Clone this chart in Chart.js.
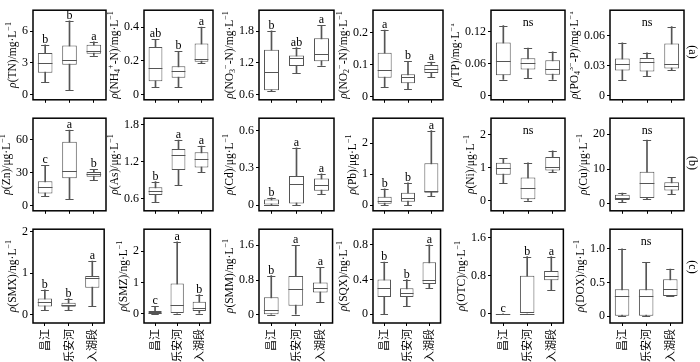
<!DOCTYPE html>
<html>
<head>
<meta charset="utf-8">
<script src="https://cdn.jsdelivr.net/npm/chart.js@4.4.0/dist/chart.umd.min.js"></script>
<style>
body { margin: 0; background: #fff; width: 700px; height: 362px; position: relative; overflow: hidden; }
canvas { position: absolute; }
.tag { position: absolute; width: 24px; height: 14px; line-height: 14px; text-align: center;
       font: 12px "Liberation Serif"; color: #000; transform: rotate(90deg); }
</style>
</head>
<body>
<script>
const sites = ['昌江', '乐安河', '入湖段'];

// five-number summaries per site: [min, q1, median, q3, max]
const tn = [[1.22, 2.07, 3.03, 3.93, 4.72], [0.41, 2.83, 3.26, 4.66, 6.99], [3.7, 3.87, 4.17, 4.72, 5.0]];
const nh4 = [[0.043, 0.079, 0.159, 0.283, 0.328], [0.043, 0.101, 0.139, 0.169, 0.256], [0.186, 0.195, 0.213, 0.303, 0.4]];
const no3 = [[0.66, 0.68, 1.03, 1.45, 1.81], [1.0, 1.14, 1.29, 1.34, 1.49], [1.15, 1.23, 1.37, 1.67, 1.91]];
const no2 = [[0.031, 0.059, 0.082, 0.137, 0.208], [0.025, 0.042, 0.062, 0.07, 0.11], [0.062, 0.074, 0.087, 0.099, 0.108]];
const tp = [[0.03, 0.038, 0.065, 0.0995, 0.131], [0.032, 0.049, 0.061, 0.07, 0.089], [0.03, 0.039, 0.049, 0.066, 0.082]];
const po4 = [[0.0155, 0.025, 0.0318, 0.037, 0.0527], [0.02, 0.024, 0.034, 0.0376, 0.0427], [0.026, 0.027, 0.032, 0.0518, 0.0688]];
const zn = [[8.7, 10.8, 17.2, 22.1, 36.7], [5.5, 24.8, 31.2, 58.3, 69], [23, 26.2, 28.5, 30.6, 33]];
const arsenic = [[0.54, 0.656, 0.721, 0.782, 0.873], [0.81, 1.06, 1.31, 1.40, 1.547], [1.03, 1.10, 1.24, 1.35, 1.45]];
const cd = [[0, 0.005, 0.005, 0.046, 0.059], [0, 0.013, 0.171, 0.235, 0.462], [0.092, 0.117, 0.163, 0.214, 0.253]];
const pb = [[0, 0.05, 0.13, 0.27, 0.53], [0, 0.11, 0.23, 0.40, 0.72], [0.30, 0.40, 0.46, 1.35, 2.40]];
const ni = [[0.53, 0.79, 1.0, 1.15, 1.29], [0, 0.05, 0.38, 0.71, 1.15], [0.87, 0.92, 1.03, 1.33, 1.51]];
const cu = [[0.5, 1.07, 1.8, 2.6, 3.1], [1.3, 1.7, 6.1, 9.2, 18.3], [2.8, 3.8, 5.0, 6.2, 7.6]];
const smx = [[0.11, 0.2, 0.3, 0.39, 0.6], [0.11, 0.19, 0.24, 0.29, 0.39], [0.2, 0.65, 0.89, 0.93, 1.29]];
const smz = [[0, 0, 0.03, 0.08, 0.23], [0, 0, 0.29, 0.96, 2.3], [0, 0.08, 0.19, 0.38, 0.61]];
const smm = [[0, 0, 0.1, 0.405, 0.9], [0, 0.21, 0.6, 0.89, 1.6], [0.3, 0.51, 0.61, 0.74, 1.09]];
const sqx = [[0, 0.2, 0.3, 0.4, 0.6], [0.1, 0.2, 0.25, 0.3, 0.4], [0.3, 0.35, 0.4, 0.6, 0.8]];
const otc = [[0, 0, 0, 0, 0], [0, 0, 0, 0.8, 1.2], [0.5, 0.7, 0.8, 0.9, 1.2]];
const dox = [[0, 0, 0.3, 0.4, 1.0], [0, 0, 0.3, 0.4, 0.8], [0.3, 0.3, 0.4, 0.55, 0.7]];

const boxes = [tn, nh4, no3, no2, tp, po4, zn, arsenic, cd, pb, ni, cu, smx, smz, smm, sqx, otc, dox];

// significance letters ('ns' = no significant difference)
const letters = [
  ['b', 'b', 'a'], ['ab', 'b', 'a'], ['b', 'ab', 'a'], ['a', 'b', 'a'], 'ns', 'ns',
  ['c', 'a', 'b'], ['b', 'a', 'a'], ['b', 'a', 'a'], ['b', 'b', 'a'], 'ns', 'ns',
  ['b', 'b', 'a'], ['c', 'a', 'b'], ['b', 'a', 'a'], ['b', 'b', 'a'], ['c', 'b', 'a'], 'ns'
];

// _{..} subscript, ^{..} superscript
const yTitles = [
  'ρ(TN)/mg·L^{−1}', 'ρ(NH_{4}^{+}-N)/mg·L^{−1}', 'ρ(NO_{3}^{−}-N)/mg·L^{−1}',
  'ρ(NO_{2}^{−}-N)/mg·L^{−1}', 'ρ(TP)/mg·L^{−1}', 'ρ(PO_{4}^{3−}-P)/mg·L^{−1}',
  'ρ(Zn)/μg·L^{−1}', 'ρ(As)/μg·L^{−1}', 'ρ(Cd)/μg·L^{−1}',
  'ρ(Pb)/μg·L^{−1}', 'ρ(Ni)/μg·L^{−1}', 'ρ(Cu)/μg·L^{−1}',
  'ρ(SMX)/ng·L^{−1}', 'ρ(SMZ)/ng·L^{−1}', 'ρ(SMM)/ng·L^{−1}',
  'ρ(SQX)/ng·L^{−1}', 'ρ(OTC)/ng·L^{−1}', 'ρ(DOX)/ng·L^{−1}'
];

const yMin = [-0.5, -0.03, 0.5, -0.01, -0.008, -0.004, -5, 0.4, -0.045, -0.18, -0.3, -2, -0.2, -0.3, -0.19, -0.1, -0.2, -0.1];
const yMax = [8, 0.5, 2.2, 0.27, 0.16, 0.085, 80, 1.9, 0.7, 2.8, 2.5, 24.6, 2.06, 2.7, 1.97, 0.98, 1.78, 1.29];
const yTicks = [
  ['0', '3', '6'], ['0', '0.2', '0.4'], ['0.6', '1.2', '1.8'], ['0', '0.1', '0.2'], ['0', '0.06', '0.12'], ['0', '0.03', '0.06'],
  ['0', '30', '60'], ['0.6', '1.2', '1.8'], ['0', '0.3', '0.6'], ['0', '1', '2'], ['0', '1', '2'], ['0', '10', '20'],
  ['0', '1', '2'], ['0', '1', '2'], ['0', '0.8', '1.6'], ['0', '0.4', '0.8'], ['0', '0.8', '1.6'], ['0', '0.5', '1.0']
];
const rowTags = ['(a)', '(b)', '(c)'];

// layout
const colLeft = [33, 144, 259, 373, 491, 610];
const colW = [73, 69, 75, 70, 74, 74];
const rowTop = [5, 113, 224];
const rowH = [96, 99, 99];
const tagY = [52, 163, 267];
const boxColor = '#555';
const serif = '"Liberation Serif", "DejaVu Serif", serif';

function parseTitle(s) {
  const parts = [];
  const re = /(_\{[^}]*\}|\^\{[^}]*\})/;
  s.split(re).forEach(p => {
    if (!p) return;
    if (p[0] === '_') parts.push({ t: p.slice(2, -1), m: 'sub' });
    else if (p[0] === '^') parts.push({ t: p.slice(2, -1), m: 'sup' });
    else if (p[0] === 'ρ') {
      parts.push({ t: 'ρ', m: 'it' });
      if (p.length > 1) parts.push({ t: p.slice(1), m: 'n' });
    } else parts.push({ t: p, m: 'n' });
  });
  return parts;
}

function segFont(m) {
  if (m === 'it') return 'italic 11.5px ' + serif;
  if (m === 'sub' || m === 'sup') return '8px ' + serif;
  return '11.5px ' + serif;
}

const boxPlugin = {
  id: 'boxExtras',
  afterDatasetsDraw(chart) {
    const { ctx, chartArea } = chart;
    const xs = chart.scales.x, ys = chart.scales.y;
    const idx = chart.options.plugins.boxExtras.index;
    const stats = boxes[idx];
    const meta = chart.getDatasetMeta(0);
    ctx.save();
    ctx.strokeStyle = boxColor;
    ctx.lineWidth = 1;
    stats.forEach((s, i) => {
      const x = xs.getPixelForValue(i);
      const w = meta.data[i].width;
      const cap = w * 0.28;
      const line = (x1, x2, v) => {
        const y = Math.round(ys.getPixelForValue(v)) + 0.5;
        ctx.beginPath(); ctx.moveTo(x1, y); ctx.lineTo(x2, y); ctx.stroke();
      };
      line(x - w / 2, x + w / 2, s[2]);
      line(x - cap, x + cap, s[0]);
      line(x - cap, x + cap, s[4]);
    });
    ctx.fillStyle = '#000';
    ctx.font = '12px ' + serif;
    ctx.textAlign = 'center';
    ctx.textBaseline = 'alphabetic';
    const lt = letters[idx];
    if (lt === 'ns') {
      ctx.fillText('ns', (chartArea.left + chartArea.right) / 2, chartArea.top + 16);
    } else {
      stats.forEach((s, i) => {
        ctx.fillText(lt[i], xs.getPixelForValue(i), ys.getPixelForValue(s[4]) - 2);
      });
    }
    ctx.restore();
  },
  afterDraw(chart) {
    const { ctx, chartArea } = chart;
    const idx = chart.options.plugins.boxExtras.index;
    ctx.save();
    ctx.strokeStyle = '#000';
    ctx.lineWidth = 1.5;
    ctx.strokeRect(chartArea.left, chartArea.top, chartArea.right - chartArea.left, chartArea.bottom - chartArea.top);

    // y-axis title with italic rho, sub- and superscripts
    ctx.font = '12px ' + serif;
    let lw = 0;
    yTicks[idx].forEach(t => { lw = Math.max(lw, ctx.measureText(t).width); });
    const cx = chartArea.left - 3 - 2 - lw - 10;
    const cy = (chartArea.top + chartArea.bottom) / 2;
    const parts = parseTitle(yTitles[idx]);
    let total = 0;
    parts.forEach(p => { ctx.font = segFont(p.m); p.w = ctx.measureText(p.t).width; total += p.w; });
    ctx.translate(cx, cy);
    ctx.rotate(-Math.PI / 2);
    ctx.fillStyle = '#000';
    ctx.textAlign = 'left';
    ctx.textBaseline = 'alphabetic';
    let px = -total / 2;
    parts.forEach(p => {
      ctx.font = segFont(p.m);
      const dy = p.m === 'sub' ? 6 : p.m === 'sup' ? -1 : 4;
      ctx.fillText(p.t, px, dy);
      px += p.w;
    });
    ctx.restore();
  }
};

boxes.forEach((stats, i) => {
  const row = Math.floor(i / 6), col = i % 6;
  const xh = row === 2 ? 42 : 8;
  const cv = document.createElement('canvas');
  const w = 40 + colW[col] + 3, h = 4 + rowH[row] + xh;
  cv.width = w; cv.height = h;
  cv.style.left = (colLeft[col] - 40) + 'px';
  cv.style.top = (rowTop[row] - 4) + 'px';
  cv.style.width = w + 'px'; cv.style.height = h + 'px';
  document.body.appendChild(cv);

  new Chart(cv.getContext('2d'), {
    type: 'bar',
    data: {
      labels: sites,
      datasets: [
        {
          data: stats.map(s => [s[1], s[3]]),
          backgroundColor: '#fff',
          borderColor: boxColor,
          borderWidth: 1,
          borderSkipped: false,
          barPercentage: 0.6,
          categoryPercentage: 1,
          grouped: false,
          order: 0
        },
        {
          data: stats.map(s => [s[0], s[4]]),
          backgroundColor: boxColor,
          barThickness: 1,
          grouped: false,
          order: 1
        }
      ]
    },
    options: {
      responsive: false,
      animation: false,
      events: [],
      layout: { padding: { top: 4, right: 3, left: 0, bottom: 0 } },
      plugins: {
        legend: { display: false },
        tooltip: { enabled: false },
        boxExtras: { index: i }
      },
      scales: {
        x: {
          offset: true,
          grid: { offset: false, drawOnChartArea: false, tickLength: 3, color: '#000' },
          border: { display: false },
          ticks: {
            display: row === 2,
            autoSkip: false,
            minRotation: 90,
            maxRotation: 90,
            padding: 3,
            color: '#000',
            font: { family: '"Noto Sans CJK SC"', size: 11 }
          },
          afterFit: s => { s.height = xh; }
        },
        y: {
          min: yMin[i],
          max: yMax[i],
          grid: { drawOnChartArea: false, tickLength: 3, color: '#000' },
          border: { display: false },
          afterBuildTicks: s => { s.ticks = yTicks[i].map(t => ({ value: parseFloat(t) })); },
          ticks: {
            callback: (v, k) => yTicks[i][k],
            padding: 2,
            color: '#000',
            font: { family: serif, size: 12 }
          },
          afterFit: s => { s.width = 40; }
        }
      }
    },
    plugins: [boxPlugin]
  });
});

rowTags.forEach((t, r) => {
  const d = document.createElement('div');
  d.className = 'tag';
  d.textContent = t;
  d.style.left = (693 - 12) + 'px';
  d.style.top = (tagY[r] - 7) + 'px';
  document.body.appendChild(d);
});
</script>
</body>
</html>
